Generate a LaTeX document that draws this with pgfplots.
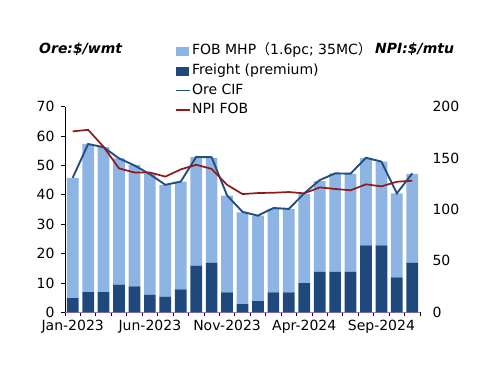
\documentclass[border=0pt]{standalone}
\usepackage{fontspec}
\setmainfont{DejaVu Sans}
\newfontfamily\cjk{Noto Sans CJK SC}
\usepackage{pgfplots}
\usepackage{pgfplotstable}
\pgfplotsset{compat=1.18}

\definecolor{lightb}{HTML}{8DB4E2}
\definecolor{darkb}{HTML}{1F497D}
\definecolor{oreline}{HTML}{254E7E}
\definecolor{npiline}{HTML}{8E1B1B}
\definecolor{axpurple}{HTML}{9B7BD0}

\pgfplotstableread{
x freight fob ore npi
0  4.8 41.0 45.8 176
1  6.9 50.4 57.3 177.5
2  6.9 49.3 56.2 161
3  9.4 43.0 52.4 140
4  8.8 41.4 50.0 136
5  5.9 41.3 47.0 136
6  5.3 38.0 43.4 132
7  7.8 36.7 44.5 139
8 15.9 36.9 52.9 143.5
9 16.9 35.7 52.8 139.5
10 6.8 32.9 39.8 124
11 2.8 31.2 34.2 115
12 3.8 29.1 32.9 116
13 6.8 28.4 35.5 116.3
14 6.8 28.3 35.2 117
15 9.9 30.4 40.5 115.7
16 13.8 30.9 45.0 121.5
17 13.8 33.5 47.3 120
18 13.8 33.3 47.2 118.7
19 22.8 29.8 52.6 124.5
20 22.8 28.5 51.3 122.5
21 11.9 28.6 40.5 127
22 16.9 30.2 47.3 128
}\data

\pgfplotsset{
  base/.style={scale only axis, width=355bp, height=205.6bp,
    xmin=-0.5, xmax=22.5, at={(65bp,73.7bp)}, anchor=south west,
    /pgf/number format/assume math mode=true},
}

\begin{document}
\begin{tikzpicture}[font=\fontsize{14bp}{17bp}\selectfont]
\path[use as bounding box] (0,0) rectangle (500bp,386bp);
\begin{axis}[base, ybar stacked, bar width=11.7bp,
  ymin=0, ymax=70, ytick={0,10,...,70},
  axis x line*=bottom, axis y line*=left,
  x axis line style={draw=axpurple, line width=0.9bp, -},
  y axis line style={draw=black, line width=0.8bp, -},
  tick align=outside, major tick length=4bp,
  tick style={black, line width=0.8bp},
  xtick={-0.5,0.5,...,22.5},
  xticklabels={Jan-2023,,,,,Jun-2023,,,,,Nov-2023,,,,,Apr-2024,,,,,Sep-2024,,,,},
  xticklabel style={xshift=7.72bp},
  yticklabel style={xshift=-3bp},
  legend style={at={(0.31,1.3074)}, anchor=north west, draw=none, fill=none,
    inner sep=0pt, row sep=4.7bp,
    nodes={inner sep=1bp, text height=10bp, text depth=3bp}},
  legend cell align=left,
]
\addplot[fill=darkb, draw=none, forget plot] table[x=x,y=freight]{\data};
\addplot[fill=lightb, draw=none, forget plot] table[x=x,y=fob]{\data};
\addlegendimage{legend image code/.code={\fill[lightb] (0bp,-4bp) rectangle (12bp,4bp);}}
\addlegendentry{FOB MHP{\cjk （}1.6pc; 35MC{\cjk ）}}
\addlegendimage{legend image code/.code={\fill[darkb] (0bp,-4bp) rectangle (12bp,4bp);}}
\addlegendentry{Freight (premium)}
\addlegendimage{legend image code/.code={\draw[oreline, line width=1.8bp] (0bp,0bp) -- (14bp,0bp);}}
\addlegendentry{Ore CIF}
\addlegendimage{legend image code/.code={\draw[npiline, line width=1.8bp] (0bp,0bp) -- (14bp,0bp);}}
\addlegendentry{NPI FOB}
\end{axis}
\begin{axis}[base, ymin=0, ymax=70, hide axis]
\addplot[oreline, line width=1.9bp, mark=none] table[x=x,y=ore]{\data};
\end{axis}
\begin{axis}[base, ymin=0, ymax=200, ytick={0,50,...,200},
  axis y line*=right, axis x line=none,
  y axis line style={draw=none}, major tick length=0pt,
  yticklabel style={anchor=west, xshift=9bp}]
\addplot[npiline, line width=1.7bp, mark=none] table[x=x,y=npi]{\data};
\end{axis}
\node[anchor=base west, inner sep=0pt, font=\fontsize{14bp}{17bp}\selectfont\bfseries\itshape] at (39bp,332.5bp) {Ore:\$/wmt};
\node[anchor=base west, inner sep=0pt, font=\fontsize{14bp}{17bp}\selectfont\bfseries\itshape] at (375bp,332.5bp) {NPI:\$/mtu};
\end{tikzpicture}
\end{document}
